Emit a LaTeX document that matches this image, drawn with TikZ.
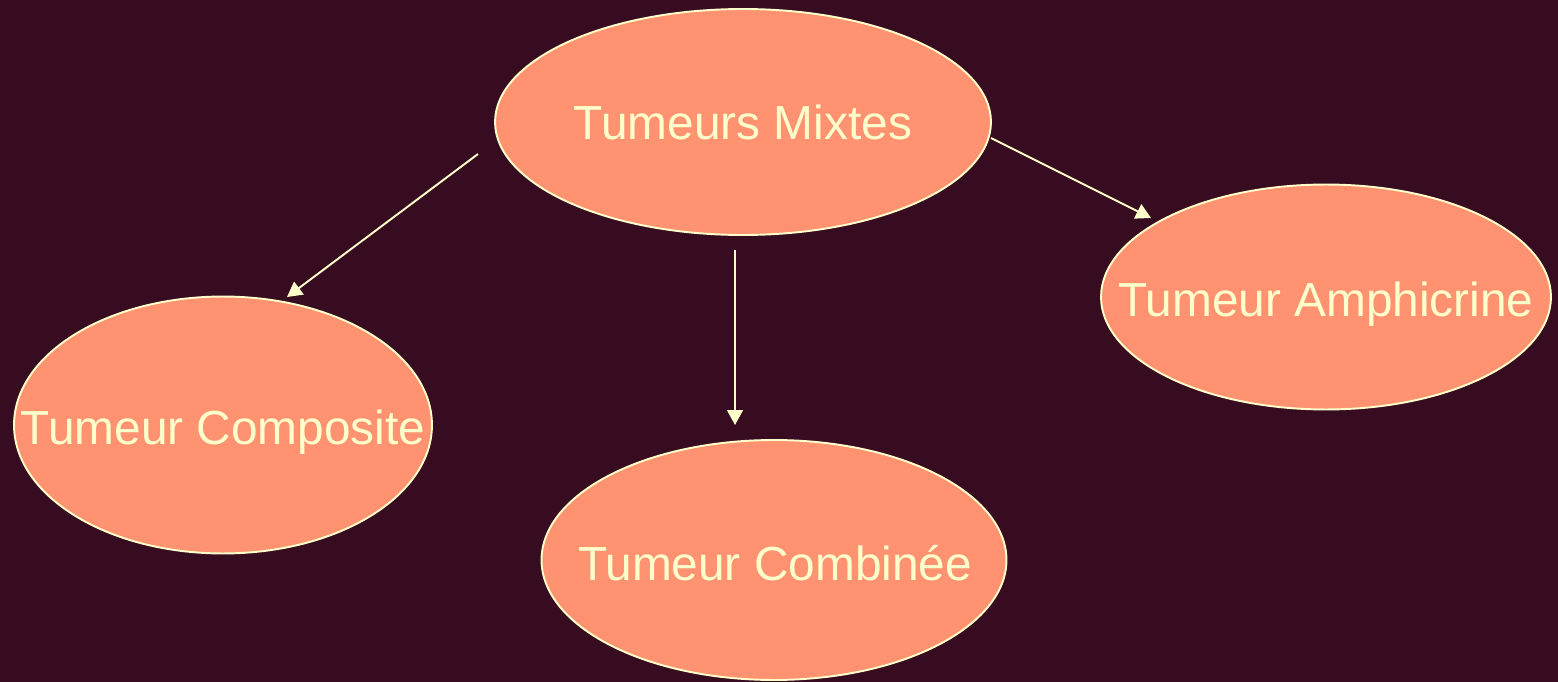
\documentclass[tikz,border=0pt]{standalone}
\usepackage{fontspec}
\setmainfont{Liberation Sans}
\usetikzlibrary{shapes.geometric,arrows.meta}
\definecolor{bgc}{HTML}{380C20}
\definecolor{fillc}{HTML}{FF9270}
\definecolor{creamc}{HTML}{FFFFCC}
\begin{document}
\begin{tikzpicture}[x=0.02cm,y=-0.02cm,
  blob/.style={ellipse, draw=creamc, fill=fillc, line width=1.1pt, inner sep=0pt},
  lbl/.style={text=creamc, font=\fontsize{27.2}{32}\selectfont, inner sep=0pt, anchor=base},
  conn/.style={draw=creamc, line width=1.1pt, -{Triangle[length=8.5pt,width=9pt]}}]
\fill[bgc] (0,0) rectangle (1558,682);
\useasboundingbox (0,0) rectangle (1558,682);
\node[blob, minimum width=9.92cm, minimum height=4.52cm] (mix) at (743,122) {};
\node[blob, minimum width=8.36cm, minimum height=5.14cm] (comp) at (223,425) {};
\node[blob, minimum width=9.3cm, minimum height=4.8cm] (comb) at (774,560) {};
\node[blob, minimum width=9.0cm, minimum height=4.5cm] (amph) at (1326,297) {};
\node[lbl] (mixt) at (743,140) {Tumeurs Mixtes};
\node[lbl] (compt) at (223,444) {Tumeur Composite};
\node[lbl] (combt) at (775,580) {Tumeur Combinée};
\node[lbl] (ampht) at (1326,316) {Tumeur Amphicrine};
\coordinate (a1s) at (478,154);
\coordinate (a1e) at (287,297);
\coordinate (a2s) at (735,250);
\coordinate (a2e) at (735,425);
\coordinate (a3s) at (991,138);
\coordinate (a3e) at (1151,218);
\draw[conn] (a1s) -- (a1e);
\draw[conn] (a2s) -- (a2e);
\draw[conn] (a3s) -- (a3e);
\end{tikzpicture}
\end{document}
